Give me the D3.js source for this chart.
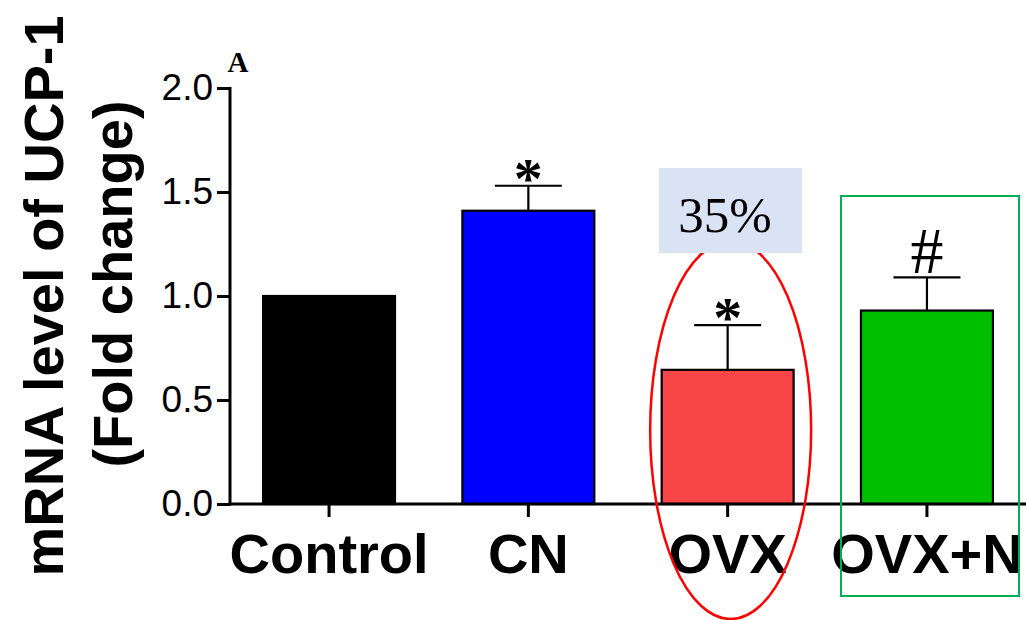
<!DOCTYPE html>
<html>
<head>
<meta charset="utf-8">
<script src="https://cdn.jsdelivr.net/npm/d3@7"></script>
<style>
  html, body { margin: 0; padding: 0; background: #fff; }
  svg { display: block; }
</style>
</head>
<body>
<svg id="chart" width="1026" height="620"></svg>
<script>
// UCP-1 mRNA expression, fold change relative to Control
const groups = ["Control", "CN", "OVX", "OVX+N"];
const means = [1.0, 1.41, 0.645, 0.93];
const sems = [0, 0.12, 0.215, 0.16];
const marks = ["", "*", "*", "#"];
const barColors = ["#000000", "#0000ff", "#f84545", "#00bf00"];
const yTicks = [0, 0.5, 1.0, 1.5, 2.0];

const svg = d3.select("#chart");

const x = d3.scaleBand()
  .domain(groups)
  .range([230, 1026])
  .paddingInner(0.338)
  .paddingOuter(0.166);

const y = d3.scaleLinear().domain([0, 2]).range([504, 88]);

const data = groups.map((g, i) => ({ g, v: means[i], e: sems[i], m: marks[i], c: barColors[i] }));

// Bars
svg.append("g").selectAll("rect")
  .data(data)
  .join("rect")
  .attr("x", d => x(d.g))
  .attr("y", d => y(d.v))
  .attr("width", x.bandwidth())
  .attr("height", d => y(0) - y(d.v))
  .attr("fill", d => d.c)
  .attr("stroke", "#000")
  .attr("stroke-width", 2.2);

// Upper error bars
const eb = svg.append("g").attr("stroke", "#000").attr("stroke-width", 2.2);
data.filter(d => d.e > 0).forEach(d => {
  const cx = x(d.g) + x.bandwidth() / 2;
  eb.append("line").attr("x1", cx).attr("x2", cx).attr("y1", y(d.v)).attr("y2", y(d.v + d.e));
  eb.append("line").attr("x1", cx - 33.5).attr("x2", cx + 33.5).attr("y1", y(d.v + d.e)).attr("y2", y(d.v + d.e));
});

// Significance marks
svg.append("g").selectAll("text")
  .data(data.filter(d => d.m))
  .join("text")
  .attr("x", d => x(d.g) + x.bandwidth() / 2)
  .attr("y", d => y(d.v + d.e) + (d.m === "#" ? -4 : 12))
  .attr("text-anchor", "middle")
  .attr("font-family", "'Liberation Serif', 'Times New Roman', serif")
  .attr("font-weight", d => d.m === "#" ? "normal" : "bold")
  .attr("font-size", d => d.m === "#" ? 66 : 58)
  .attr("fill", "#000")
  .text(d => d.m);

// Y axis
const yAxis = svg.append("g")
  .attr("transform", "translate(230,0)")
  .call(d3.axisLeft(y).tickValues(yTicks).tickFormat(d3.format(".1f")).tickSize(13).tickPadding(4));
yAxis.select(".domain").attr("stroke-width", 3).attr("d", "M0," + (y(2) - 1) + "V" + (y(0) + 1.5));
yAxis.selectAll(".tick line").attr("stroke-width", 3);
yAxis.selectAll(".tick text")
  .attr("font-family", "'Liberation Sans', Arial, sans-serif")
  .attr("font-size", 37)
  .attr("fill", "#000");

// X axis
const xAxis = svg.append("g")
  .attr("transform", "translate(0,504)")
  .call(d3.axisBottom(x).tickSize(13).tickPadding(0));
xAxis.select(".domain").attr("stroke-width", 3).attr("d", "M228.5,0H1026");
xAxis.selectAll(".tick line").attr("stroke-width", 3);
xAxis.selectAll(".tick text")
  .attr("dy", null)
  .attr("y", 69)
  .attr("font-family", "'Liberation Sans', Arial, sans-serif")
  .attr("font-weight", "bold")
  .attr("font-size", 56)
  .attr("fill", "#000");

// Y axis title (two lines)
const titleFont = "'Liberation Sans', Arial, sans-serif";
svg.append("text")
  .attr("transform", "translate(63,296) rotate(-90)")
  .attr("text-anchor", "middle")
  .attr("font-family", titleFont).attr("font-weight", "bold").attr("font-size", 56)
  .text("mRNA level of UCP-1");
svg.append("text")
  .attr("transform", "translate(132,284) rotate(-90)")
  .attr("text-anchor", "middle")
  .attr("font-family", titleFont).attr("font-weight", "bold").attr("font-size", 56)
  .text("(Fold change)");

// Panel letter
svg.append("text")
  .attr("x", 238).attr("y", 72)
  .attr("text-anchor", "middle")
  .attr("font-family", "'Liberation Serif', 'Times New Roman', serif")
  .attr("font-weight", "bold").attr("font-size", 29)
  .text("A");

// Highlight around OVX
const ovxCx = x("OVX") + x.bandwidth() / 2;
svg.append("ellipse")
  .attr("cx", ovxCx + 3).attr("cy", 430)
  .attr("rx", 80.5).attr("ry", 189)
  .attr("fill", "none").attr("stroke", "#ff0000").attr("stroke-width", 2.5);

svg.append("rect")
  .attr("x", 659).attr("y", 168).attr("width", 143).attr("height", 85)
  .attr("fill", "#dae3f3");
svg.append("text")
  .attr("x", 725).attr("y", 232)
  .attr("text-anchor", "middle")
  .attr("font-family", "'Liberation Serif', 'Times New Roman', serif")
  .attr("font-size", 51)
  .text("35%");

// Highlight around OVX+N
svg.append("rect")
  .attr("x", 841).attr("y", 196).attr("width", 178).attr("height", 400)
  .attr("fill", "none").attr("stroke", "#00b050").attr("stroke-width", 2);
</script>
</body>
</html>
